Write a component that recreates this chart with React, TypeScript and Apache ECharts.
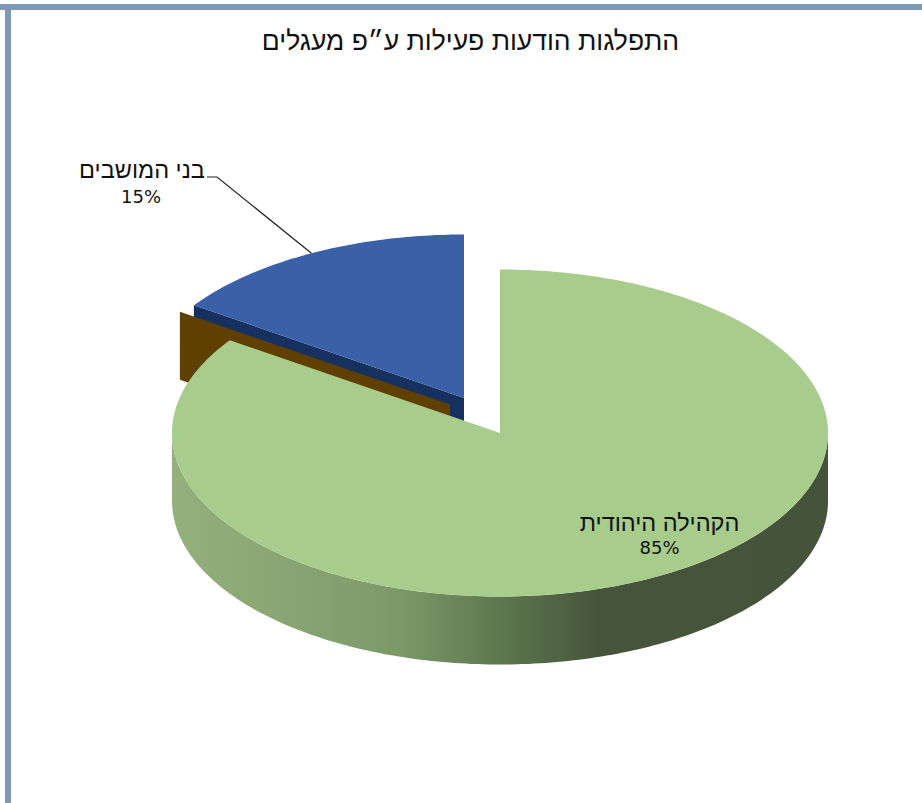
import React, { useEffect, useRef } from "react";
import * as echarts from "echarts";

const TITLE = "התפלגות הודעות פעילות ע״פ מעגלים";
const categories = ["הקהילה היהודית", "", "בני המושבים"];
const values = [84.6, 0, 15.4];
const faceColors = ["#a8cc8c", "#604000", "#3a60a8"];
const wallColors = ["#46553a", "#604000", "#16305f"];

const RX = 328;
const RY = 163.5;
const DEPTH = 68;
const CENTERS: [number, number][] = [
  [500, 433],
  [450, 404.5],
  [464, 398],
];

const total = values.reduce((a, b) => a + b, 0);
const startFractions = values.map((_, i) => values.slice(0, i).reduce((a, b) => a + b, 0) / total);

function rim(c: [number, number], frac: number): [number, number] {
  const t = frac * Math.PI * 2;
  return [c[0] + RX * Math.sin(t), c[1] - RY * Math.cos(t)];
}
function arc(c: [number, number], from: number, to: number): [number, number][] {
  const n = Math.max(2, Math.ceil((to - from) * 360));
  const pts: [number, number][] = [];
  for (let i = 0; i <= n; i++) pts.push(rim(c, from + ((to - from) * i) / n));
  return pts;
}

function labelText(text: string, x: number, y: number, font: string) {
  return {
    type: "text",
    style: { text, x, y, fill: "#111111", font, textAlign: "center", textVerticalAlign: "middle" },
  };
}
const NAME_FONT = '23.5px "Liberation Sans"';
const PCT_FONT = '18px "DejaVu Sans"';

function renderSlice(params: any, api: any) {
  const i = api.value(0) as number;
  const v = api.value(1) as number;
  const c = CENTERS[i];
  const from = startFractions[i];
  const to = from + v / total;
  const children: any[] = [];

  // The wall of the cut that looks toward the viewer (left-hand radial edge).
  if (i > 0) {
    const p = rim(c, from);
    children.push({
      type: "polygon",
      shape: { points: [c, p, [p[0], p[1] + DEPTH], [c[0], c[1] + DEPTH]] },
      style: { fill: wallColors[i] },
    });
  }
  // The front rim, which only the slice crossing the lower half shows.
  if (i === 0) {
    const lower = arc(c, Math.max(from, 0.25), Math.min(to, 0.75));
    const upper = lower.map(([x, y]) => [x, y + DEPTH] as [number, number]).reverse();
    children.push({
      type: "polygon",
      shape: { points: [...lower, ...upper] },
      style: {
        fill: new echarts.graphic.LinearGradient(0, 0, 1, 0, [
          { offset: 0, color: "#94b07d" },
          { offset: 0.345, color: "#7c9a68" },
          { offset: 0.49, color: "#5f7a50" },
          { offset: 0.65, color: "#46553a" },
          { offset: 1, color: "#45533a" },
        ]),
      },
    });
  }
  if (v > 0) {
    children.push({
      type: "polygon",
      shape: { points: [c, ...arc(c, from, to)] },
      style: { fill: faceColors[i] },
    });
  }
  const mid = (from + to) / 2;
  const edge = rim(c, mid);
  const pct = `${Math.round((v / total) * 100)}%`;
  if (i === 0) {
    children.push(labelText(categories[i], edge[0] + 7, edge[1] - 55, NAME_FONT));
    children.push(labelText(pct, edge[0] + 7, edge[1] - 30, PCT_FONT));
  }
  if (i === 2) {
    children.push({
      type: "polyline",
      shape: { points: [[207, 177], [217, 177], edge] },
      style: { stroke: "#222222", lineWidth: 1.2, fill: "none" },
    });
    children.push(labelText(categories[i], 142, 170, NAME_FONT));
    children.push(labelText(pct, 141, 196, PCT_FONT));
  }
  return { type: "group", children };
}

export default function App() {
  const ref = useRef<HTMLDivElement>(null);
  useEffect(() => {
    const chart = echarts.init(ref.current!, undefined, { renderer: "svg" });
    chart.setOption({
      animation: false,
      backgroundColor: "#ffffff",
      title: {
        text: TITLE,
        left: 465.5,
        top: 22,
        textAlign: "center",
        textStyle: { fontFamily: "Liberation Sans", fontSize: 26.5, fontWeight: "normal", color: "#111111" },
      },
      graphic: [
        { type: "rect", shape: { x: 0, y: 4, width: 922, height: 6 }, style: { fill: "#7f98b6" } },
        { type: "rect", shape: { x: 5, y: 4, width: 6, height: 799 }, style: { fill: "#7f98b6" } },
      ],
      series: [
        {
          type: "custom",
          coordinateSystem: "none",
          renderItem: renderSlice,
          data: [2, 1, 0].map((i) => [i, values[i]]),
        },
      ],
    });
    return () => chart.dispose();
  }, []);
  return <div ref={ref} style={{ position: "fixed", left: 0, top: 0, width: 922, height: 803 }} />;
}
